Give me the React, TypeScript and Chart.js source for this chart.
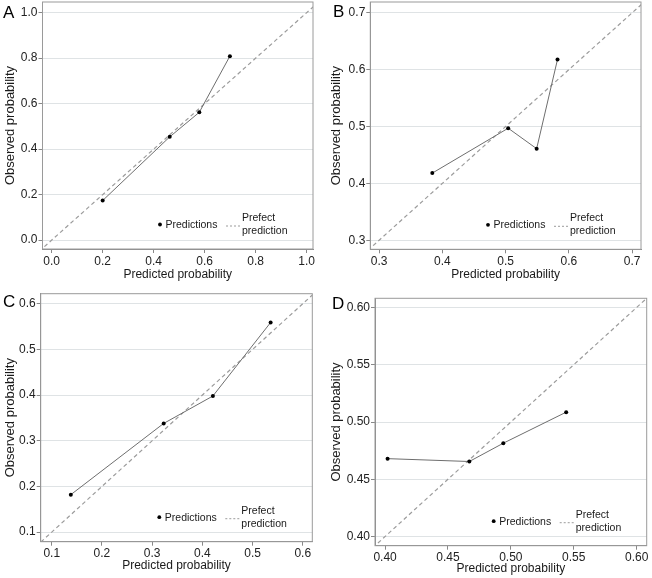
import React, { useEffect, useRef } from "react";
import { Chart, registerables } from "chart.js";

Chart.register(...registerables);

const FONT = '"Liberation Sans", Arial, Helvetica, sans-serif';

// ---- Data ----
const seriesLabels = ["Predictions", "Prefect prediction"];
const xTitle = "Predicted probability";
const yTitle = "Observed probability";

// Panel A
const predictedA = [0.2, 0.463, 0.579, 0.699];
const observedA = [0.174, 0.454, 0.562, 0.809];
const tickLabelsA = ["0.0", "0.2", "0.4", "0.6", "0.8", "1.0"];
const xRangeA = [-0.036, 1.025];
const yRangeA = [-0.039, 1.047];

// Panel B
const predictedB = [0.384, 0.504, 0.549, 0.582];
const observedB = [0.418, 0.497, 0.461, 0.618];
const tickLabelsB = ["0.3", "0.4", "0.5", "0.6", "0.7"];
const xRangeB = [0.286, 0.714];
const yRangeB = [0.284, 0.719];

// Panel C
const predictedC = [0.138, 0.323, 0.421, 0.536];
const observedC = [0.182, 0.338, 0.398, 0.559];
const tickLabelsC = ["0.1", "0.2", "0.3", "0.4", "0.5", "0.6"];
const xRangeC = [0.078, 0.619];
const yRangeC = [0.079, 0.622];

// Panel D
const predictedD = [0.402, 0.467, 0.494, 0.544];
const observedD = [0.468, 0.4655, 0.4815, 0.5086];
const tickLabelsD = ["0.40", "0.45", "0.50", "0.55", "0.60"];
const xRangeD = [0.392, 0.608];
const yRangeD = [0.392, 0.608];

type PanelSpec = {
  letter: string;
  predicted: number[];
  observed: number[];
  ticks: string[];
  xRange: number[];
  yRange: number[];
  area: { l: number; r: number; t: number; b: number };
  xTitleY: number;
  letterPos: [number, number];
  pos: [number, number];
};

const W = 326;
const H = 289;

const panels: PanelSpec[] = [
  {
    letter: "A", predicted: predictedA, observed: observedA, ticks: tickLabelsA,
    xRange: xRangeA, yRange: yRangeA,
    area: { l: 42.5, r: 313, t: 1, b: 249 }, xTitleY: 275, letterPos: [3, 18], pos: [0, 0],
  },
  {
    letter: "B", predicted: predictedB, observed: observedB, ticks: tickLabelsB,
    xRange: xRangeB, yRange: yRangeB,
    area: { l: 44.3, r: 315, t: 1, b: 249.3 }, xTitleY: 275, letterPos: [7, 17], pos: [326, 0],
  },
  {
    letter: "C", predicted: predictedC, observed: observedC, ticks: tickLabelsC,
    xRange: xRangeC, yRange: yRangeC,
    area: { l: 40.7, r: 312.3, t: 4.7, b: 252.7 }, xTitleY: 276.7, letterPos: [3, 18], pos: [0, 289],
  },
  {
    letter: "D", predicted: predictedD, observed: observedD, ticks: tickLabelsD,
    xRange: xRangeD, yRange: yRangeD,
    area: { l: 49, r: 320.7, t: 9.3, b: 256.7 }, xTitleY: 280, letterPos: [6, 20], pos: [326, 289],
  },
];

const decorPlugin = {
  id: "panelDecor",
  afterDraw(chart: any, _args: any, opts: any) {
    const { ctx, chartArea } = chart;
    const { left, right, top, bottom } = chartArea;
    ctx.save();
    ctx.strokeStyle = "#9a9a9a";
    ctx.lineWidth = 1;
    ctx.setLineDash([]);
    ctx.strokeRect(left, top, right - left, bottom - top);

    const ds = chart.data.datasets;
    const mx = right - 153;
    const my = bottom - 24.5;
    ctx.fillStyle = "#000";
    ctx.beginPath();
    ctx.arc(mx, my, 1.9, 0, Math.PI * 2);
    ctx.fill();
    ctx.font = `10.5px ${FONT}`;
    ctx.fillStyle = "#1a1a1a";
    ctx.textBaseline = "middle";
    ctx.textAlign = "left";
    ctx.fillText(ds[0].label, mx + 5.5, my + 0.5);
    ctx.strokeStyle = ds[1].borderColor;
    ctx.lineWidth = 1;
    ctx.setLineDash([2, 2]);
    ctx.beginPath();
    ctx.moveTo(right - 87, my + 1.5);
    ctx.lineTo(right - 73, my + 1.5);
    ctx.stroke();
    ctx.setLineDash([]);
    const words = String(ds[1].label).split(" ");
    ctx.fillText(words[0], right - 71, bottom - 31);
    ctx.fillText(words.slice(1).join(" "), right - 71, bottom - 18);

    ctx.font = `17px ${FONT}`;
    ctx.fillStyle = "#000";
    ctx.textBaseline = "alphabetic";
    ctx.fillText(opts.letter, opts.lx, opts.ly);
    ctx.restore();
  },
};

function Panel({ spec }: { spec: PanelSpec }) {
  const ref = useRef<HTMLCanvasElement | null>(null);
  useEffect(() => {
    if (!ref.current) return;
    const tickValues = spec.ticks.map((t) => parseFloat(t));
    const a = spec.area;
    const xAxisH = H - a.b;
    const xTitlePadBottom = H - spec.xTitleY - (12 * 1.2) / 2;
    const lo = Math.min(spec.xRange[0], spec.yRange[0]) - 0.01;
    const hi = Math.max(spec.xRange[1], spec.yRange[1]) + 0.01;

    const chart = new Chart(ref.current, {
      type: "scatter",
      data: {
        datasets: [
          {
            label: seriesLabels[0],
            data: spec.predicted.map((p, i) => ({ x: p, y: spec.observed[i] })),
            showLine: true,
            borderColor: "#6e6e6e",
            borderWidth: 1,
            pointRadius: 2,
            pointBackgroundColor: "#000",
            pointBorderWidth: 0,
            pointHoverRadius: 2,
          },
          {
            label: seriesLabels[1],
            data: [
              { x: lo, y: lo },
              { x: hi, y: hi },
            ],
            showLine: true,
            borderColor: "#9c9c9c",
            borderWidth: 1.2,
            borderDash: [4, 3],
            pointRadius: 0,
            pointHoverRadius: 0,
          },
        ],
      },
      options: {
        animation: false,
        responsive: false,
        events: [],
        layout: {
          padding: { left: 0, top: a.t, right: W - a.r, bottom: 0 },
        },
        plugins: {
          legend: { display: false },
          tooltip: { enabled: false },
          panelDecor: { letter: spec.letter, lx: spec.letterPos[0], ly: spec.letterPos[1] },
        } as any,
        scales: {
          x: {
            type: "linear",
            min: spec.xRange[0],
            max: spec.xRange[1],
            afterBuildTicks: (scale: any) => {
              scale.ticks = tickValues.map((v) => ({ value: v }));
            },
            afterFit: (scale: any) => {
              scale.height = xAxisH;
              scale.paddingLeft = 0;
              scale.paddingRight = 0;
            },
            ticks: {
              autoSkip: false,
              maxRotation: 0,
              padding: 1,
              color: "#222",
              font: { family: FONT, size: 12 },
              callback: (_v: any, i: number) => spec.ticks[i],
            },
            grid: {
              drawOnChartArea: false,
              tickLength: 4,
              tickColor: "#888",
            },
            border: { display: true, color: "#8a8a8a", width: 1 },
            title: {
              display: true,
              text: xTitle,
              color: "#1a1a1a",
              font: { family: FONT, size: 12 },
              padding: { top: 0, bottom: xTitlePadBottom },
            },
          },
          y: {
            type: "linear",
            min: spec.yRange[0],
            max: spec.yRange[1],
            afterBuildTicks: (scale: any) => {
              scale.ticks = tickValues.map((v) => ({ value: v }));
            },
            afterFit: (scale: any) => {
              scale.width = a.l;
              scale.paddingTop = 0;
              scale.paddingBottom = 0;
            },
            ticks: {
              autoSkip: false,
              padding: 1,
              color: "#222",
              font: { family: FONT, size: 12 },
              callback: (_v: any, i: number) => spec.ticks[i],
            },
            grid: {
              color: "#dfe3e5",
              lineWidth: 1,
              tickLength: 4,
              tickColor: "#888",
            },
            border: { display: true, color: "#8a8a8a", width: 1 },
            title: {
              display: true,
              text: yTitle,
              color: "#1a1a1a",
              font: { family: FONT, size: 13 },
              padding: { top: 2.2, bottom: 0 },
            },
          },
        },
      },
      plugins: [decorPlugin],
    });
    return () => chart.destroy();
  }, [spec]);

  return (
    <div style={{ position: "absolute", left: spec.pos[0], top: spec.pos[1], width: W, height: H }}>
      <canvas ref={ref} width={W} height={H} style={{ display: "block", width: W, height: H }} />
    </div>
  );
}

export default function App() {
  return (
    <div
      style={{
        position: "fixed",
        left: 0,
        top: 0,
        width: 652,
        height: 578,
        background: "#fff",
        overflow: "hidden",
      }}
    >
      {panels.map((p) => (
        <Panel key={p.letter} spec={p} />
      ))}
    </div>
  );
}
